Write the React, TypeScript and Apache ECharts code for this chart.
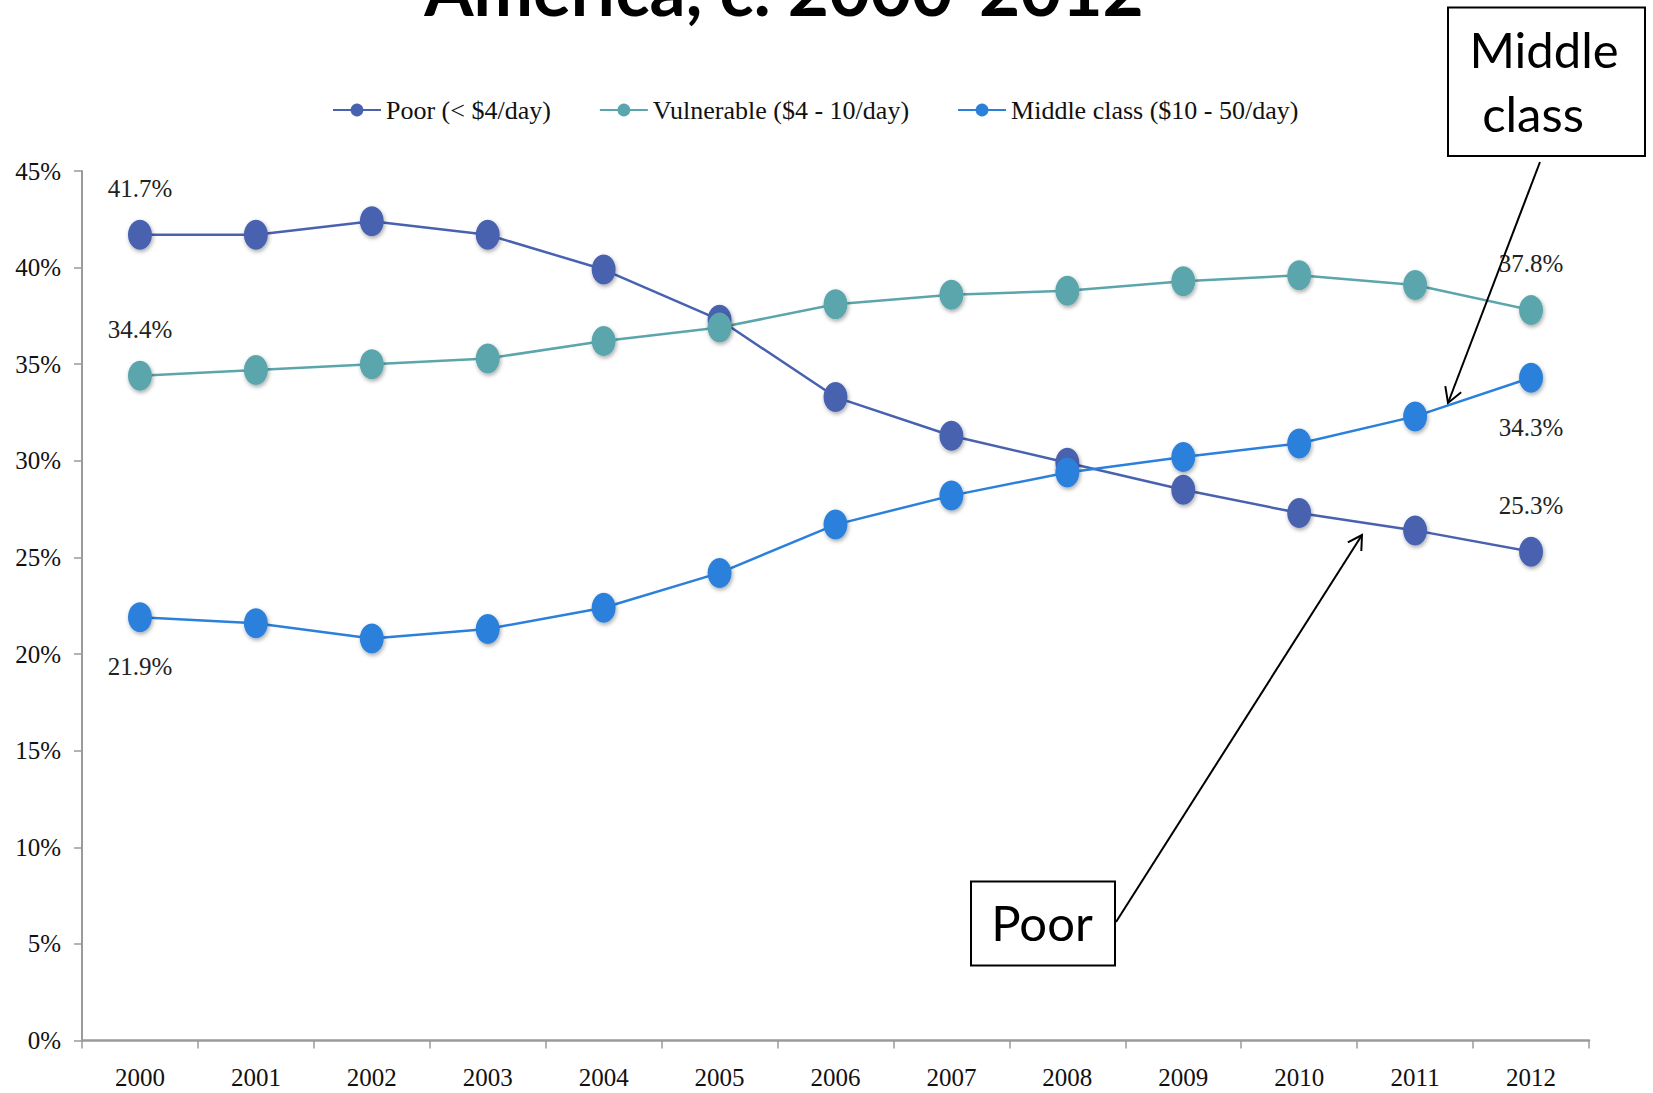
import React, { useEffect, useRef } from "react";
import * as echarts from "echarts";

// Share of population by income group, 2000-2012
const years = ["2000", "2001", "2002", "2003", "2004", "2005", "2006", "2007", "2008", "2009", "2010", "2011", "2012"];
const poor = [41.7, 41.7, 42.4, 41.7, 39.9, 37.3, 33.3, 31.3, 29.9, 28.5, 27.3, 26.4, 25.3];
const vulnerable = [34.4, 34.7, 35.0, 35.3, 36.2, 36.9, 38.1, 38.6, 38.8, 39.3, 39.6, 39.1, 37.8];
const middleClass = [21.9, 21.6, 20.8, 21.3, 22.4, 24.2, 26.7, 28.2, 29.4, 30.2, 30.9, 32.3, 34.3];

const seriesNames = ["Poor (< $4/day)", "Vulnerable ($4 - 10/day)", "Middle class ($10 - 50/day)"];
const seriesColors = ["#4862B0", "#5AA6AC", "#2B80DB"];

const SERIF = "'Liberation Serif', 'DejaVu Serif', serif";
const SANS = "Lato, 'Open Sans', sans-serif";

// Open arrowhead (two strokes) at the tip, pointing away from the start
function arrowHead(x1: number, y1: number, x2: number, y2: number, len: number, halfAngleDeg: number) {
  const back = Math.atan2(y1 - y2, x1 - x2);
  const a = (halfAngleDeg * Math.PI) / 180;
  return [
    [x2 + len * Math.cos(back - a), y2 + len * Math.sin(back - a)],
    [x2, y2],
    [x2 + len * Math.cos(back + a), y2 + len * Math.sin(back + a)],
  ];
}

function withEndLabels(values: number[], position: "top" | "bottom", distance: number) {
  const last = values.length - 1;
  return values.map((v, i) =>
    i === 0 || i === last
      ? {
          value: v,
          label: {
            show: true,
            position,
            distance,
            formatter: "{c}%",
            fontFamily: SERIF,
            fontSize: 25,
            color: "#222",
          },
        }
      : v
  );
}

export default function App() {
  const ref = useRef<HTMLDivElement>(null);

  useEffect(() => {
    if (!ref.current) return;
    const chart = echarts.init(ref.current, null, { renderer: "svg" });

    const lineStyleFor = (c: string) => ({ color: c, width: 2.5 });
    const markerStyle = (c: string) => ({
      color: c,
      shadowBlur: 4,
      shadowColor: "rgba(0,0,0,0.35)",
      shadowOffsetX: 1,
      shadowOffsetY: 2,
    });

    const mcStart = [1540, 162];
    const mcTip = [1448, 403];
    const poorStart = [1116, 922];
    const poorTip = [1362, 535];

    const option: any = {
      animation: false,
      backgroundColor: "#ffffff",
      grid: { left: 82, right: 64, top: 171, bottom: 52.5, containLabel: false },
      legend: {
        left: 327,
        top: 92,
        itemWidth: 48,
        itemHeight: 16,
        itemGap: 48,
        textStyle: { fontFamily: SERIF, fontSize: 26, color: "#111" },
        data: seriesNames,
      },
      xAxis: {
        type: "category",
        data: years,
        boundaryGap: true,
        axisLine: { show: true, lineStyle: { color: "#9a9a9a", width: 2.5 } },
        axisTick: { show: true, length: 8, lineStyle: { color: "#9a9a9a", width: 1.5 } },
        axisLabel: { margin: 24, fontFamily: SERIF, fontSize: 25, color: "#111" },
      },
      yAxis: {
        type: "value",
        min: 0,
        max: 45,
        interval: 5,
        splitLine: { show: false },
        axisLine: { show: true, lineStyle: { color: "#9a9a9a", width: 2 } },
        axisTick: { show: true, length: 8, lineStyle: { color: "#9a9a9a", width: 1.5 } },
        axisLabel: { margin: 21, formatter: "{value}%", fontFamily: SERIF, fontSize: 25, color: "#111" },
      },
      series: [
        {
          name: seriesNames[0],
          type: "line",
          data: withEndLabels(poor, "top", 19),
          symbol: "circle",
          symbolSize: [24, 30],
          lineStyle: lineStyleFor(seriesColors[0]),
          itemStyle: markerStyle(seriesColors[0]),
          z: 3,
        },
        {
          name: seriesNames[1],
          type: "line",
          data: withEndLabels(vulnerable, "top", 19),
          symbol: "circle",
          symbolSize: [24, 30],
          lineStyle: lineStyleFor(seriesColors[1]),
          itemStyle: markerStyle(seriesColors[1]),
          z: 3,
        },
        {
          name: seriesNames[2],
          type: "line",
          data: withEndLabels(middleClass, "bottom", 22),
          symbol: "circle",
          symbolSize: [24, 30],
          lineStyle: lineStyleFor(seriesColors[2]),
          itemStyle: markerStyle(seriesColors[2]),
          z: 4,
        },
      ],
      graphic: [
        // Second line of the slide title; its upper part runs off the top edge
        {
          type: "text",
          x: 784,
          y: -12,
          z: 10,
          style: {
            text: "America, c. 2000-2012",
            font: `bold 71px ${SANS}`,
            fill: "#000",
            align: "center",
            verticalAlign: "middle",
          },
        },
        // "Middle class" callout
        {
          type: "rect",
          z: 20,
          shape: { x: 1448, y: 7.5, width: 197, height: 148.5 },
          style: { fill: "#fff", stroke: "#000", lineWidth: 2 },
        },
        {
          type: "text",
          x: 1544,
          y: 49,
          z: 21,
          style: { text: "Middle", font: `49px ${SANS}`, fill: "#000", align: "center", verticalAlign: "middle" },
        },
        {
          type: "text",
          x: 1533,
          y: 113,
          z: 21,
          style: { text: "class", font: `49px ${SANS}`, fill: "#000", align: "center", verticalAlign: "middle" },
        },
        {
          type: "line",
          z: 20,
          shape: { x1: mcStart[0], y1: mcStart[1], x2: mcTip[0], y2: mcTip[1] },
          style: { stroke: "#000", lineWidth: 2 },
        },
        {
          type: "polyline",
          z: 20,
          shape: { points: arrowHead(mcStart[0], mcStart[1], mcTip[0], mcTip[1], 17, 30) },
          style: { stroke: "#000", lineWidth: 2, fill: null },
        },
        // "Poor" callout
        {
          type: "rect",
          z: 20,
          shape: { x: 971, y: 881.5, width: 144, height: 84 },
          style: { fill: "#fff", stroke: "#000", lineWidth: 2 },
        },
        {
          type: "text",
          x: 1042,
          y: 922,
          z: 21,
          style: { text: "Poor", font: `49px ${SANS}`, fill: "#000", align: "center", verticalAlign: "middle" },
        },
        {
          type: "line",
          z: 20,
          shape: { x1: poorStart[0], y1: poorStart[1], x2: poorTip[0], y2: poorTip[1] },
          style: { stroke: "#000", lineWidth: 2 },
        },
        {
          type: "polyline",
          z: 20,
          shape: { points: arrowHead(poorStart[0], poorStart[1], poorTip[0], poorTip[1], 16, 30) },
          style: { stroke: "#000", lineWidth: 2, fill: null },
        },
      ],
    };

    chart.setOption(option);
    return () => chart.dispose();
  }, []);

  return (
    <div
      ref={ref}
      style={{ position: "absolute", left: 0, top: 0, width: 1653, height: 1093, background: "#fff" }}
    />
  );
}
